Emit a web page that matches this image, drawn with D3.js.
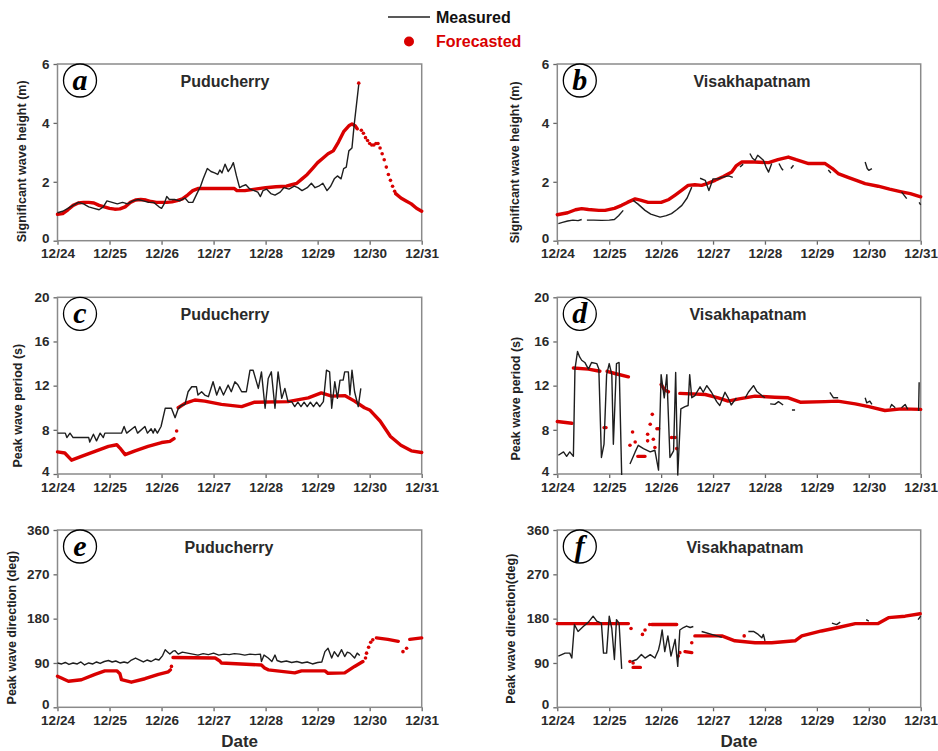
<!DOCTYPE html>
<html>
<head>
<meta charset="utf-8">
<script src="https://cdn.jsdelivr.net/npm/d3@7"></script>
<style>
  body { margin: 0; background: #fff; }
  svg { display: block; font-family: Arial, "Liberation Sans", sans-serif; }
</style>
</head>
<body>
<svg id="chart" width="938" height="751"></svg>
<script>
// x values are days after 12/24 00:00, null value = gap in the record
var dateLabels = ["12/24", "12/25", "12/26", "12/27", "12/28", "12/29", "12/30", "12/31"];

// (a) Puducherry, Hs (m)
var aMeas = [[0,0.95],[0.1,1.0],[0.2,1.1],[0.3,1.2],[0.4,1.3],[0.5,1.25],[0.6,1.15],[0.7,1.1],[0.8,1.05],[0.88,1.15],[0.95,1.35],[1.05,1.3],[1.15,1.25],[1.25,1.3],[1.35,1.25],[1.45,1.35],[1.55,1.4],[1.65,1.35],[1.75,1.3],[1.85,1.3],[1.95,1.15],[2.0,1.1],[2.05,1.25],[2.1,1.5],[2.15,1.4],[2.25,1.4],[2.35,1.35],[2.45,1.45],[2.52,1.3],[2.6,1.3],[2.68,1.6],[2.75,1.85],[2.8,2.1],[2.88,2.45],[2.95,2.35],[3.02,2.3],[3.08,2.25],[3.12,2.4],[3.16,2.3],[3.22,2.6],[3.28,2.35],[3.34,2.5],[3.38,2.65],[3.44,2.2],[3.5,1.8],[3.55,1.85],[3.62,1.9],[3.7,1.75],[3.78,1.7],[3.85,1.65],[3.9,1.5],[3.95,1.7],[4.02,1.75],[4.1,1.6],[4.18,1.55],[4.28,1.65],[4.35,1.8],[4.45,1.75],[4.55,1.85],[4.62,1.8],[4.7,1.7],[4.8,1.8],[4.88,1.95],[4.95,1.8],[5.02,1.85],[5.1,1.95],[5.18,1.7],[5.25,1.85],[5.32,2.1],[5.38,2.2],[5.45,2.1],[5.5,2.45],[5.55,2.5],[5.6,3.05],[5.66,3.15],[5.7,3.9],[5.79,5.3]];
var aFc = [[0,0.9],[0.1,0.92],[0.2,1.05],[0.3,1.2],[0.4,1.28],[0.5,1.3],[0.6,1.3],[0.7,1.28],[0.8,1.2],[0.9,1.15],[1.0,1.1],[1.1,1.07],[1.2,1.08],[1.3,1.15],[1.4,1.3],[1.5,1.38],[1.6,1.4],[1.7,1.38],[1.8,1.33],[1.9,1.3],[2.0,1.3],[2.1,1.3],[2.2,1.32],[2.3,1.36],[2.4,1.42],[2.5,1.55],[2.6,1.7],[2.7,1.77],[3.4,1.77],[3.45,1.7],[3.6,1.7],[3.8,1.75],[4.0,1.8],[4.2,1.83],[4.4,1.85],[4.5,1.9],[4.6,1.95],[4.7,2.1],[4.8,2.25],[4.9,2.45],[5.0,2.65],[5.1,2.8],[5.2,2.95],[5.3,3.05],[5.4,3.35],[5.5,3.7],[5.6,3.9],[5.66,3.96],[5.72,3.9],[5.76,3.8],[5.8,null],[6.5,1.6],[6.6,1.45],[6.7,1.35],[6.8,1.25],[6.9,1.1],[7.0,1.0]];
var aDots = [[5.79,5.35],[5.84,3.75],[5.88,3.65],[5.92,3.5],[5.96,3.4],[6.0,3.3],[6.04,3.25],[6.08,3.25],[6.12,3.3],[6.16,3.3],[6.2,3.15],[6.24,2.95],[6.28,2.75],[6.32,2.5],[6.36,2.25],[6.4,2.05],[6.44,1.85],[6.48,1.68]];

// (b) Visakhapatnam, Hs (m)
var bMeas = [[0.02,0.58],[0.1,0.62],[0.2,0.67],[0.3,0.7],[0.4,0.68],[0.47,0.72],[0.5,null],[0.57,0.7],[0.7,0.7],[0.85,0.69],[1.0,0.7],[1.1,0.72],[1.18,0.85],[1.27,1.03],[1.3,null],[1.46,1.37],[1.55,1.25],[1.69,1.03],[1.8,0.9],[1.98,0.8],[2.1,0.85],[2.2,0.92],[2.3,1.05],[2.4,1.2],[2.5,1.45],[2.59,1.82],[2.65,null],[2.75,2.12],[2.85,2.05],[2.92,1.7],[3.0,2.1],[3.1,2.1],[3.17,2.15],[3.3,2.2],[3.38,2.15],[3.42,null],[3.52,2.5],[3.58,2.6],[3.62,null],[3.71,2.96],[3.76,2.8],[3.81,2.73],[3.86,2.9],[3.9,2.84],[3.97,2.73],[4.02,2.5],[4.07,2.33],[4.13,2.62],[4.18,null],[4.27,2.62],[4.32,2.45],[4.35,2.39],[4.4,null],[4.5,2.45],[4.55,2.56],[4.58,null],[5.22,2.4],[5.27,2.3],[5.3,null],[5.93,2.67],[5.97,2.45],[6.0,2.39],[6.06,2.45],[6.1,null],[6.63,1.66],[6.73,1.43],[6.76,null],[6.97,1.3],[7.0,1.22]];
var bFc = [[0,0.88],[0.2,0.95],[0.35,1.05],[0.47,1.09],[0.6,1.06],[0.8,1.03],[0.92,1.03],[1.1,1.1],[1.24,1.2],[1.35,1.3],[1.5,1.42],[1.6,1.38],[1.75,1.3],[2.0,1.3],[2.15,1.4],[2.27,1.55],[2.4,1.72],[2.52,1.88],[2.65,1.9],[2.78,1.88],[2.9,1.95],[3.04,2.05],[3.2,2.18],[3.36,2.33],[3.45,2.55],[3.55,2.67],[3.8,2.67],[4.07,2.65],[4.25,2.75],[4.45,2.84],[4.6,2.75],[4.84,2.62],[5.16,2.62],[5.3,2.45],[5.41,2.28],[5.6,2.15],[5.8,2.02],[5.93,1.94],[6.18,1.85],[6.4,1.75],[6.63,1.66],[6.8,1.6],[7.0,1.49]];
var bDots = [];

// (c) Puducherry, Tp (s)
var cMeas = [[0,7.7],[0.15,7.7],[0.18,7.3],[0.24,7.7],[0.3,7.3],[0.6,7.3],[0.62,6.9],[0.69,7.6],[0.75,7.0],[0.82,7.7],[0.88,7.3],[0.91,7.7],[1.23,7.7],[1.28,8.3],[1.33,7.7],[1.49,8.3],[1.54,7.7],[1.68,8.3],[1.73,7.7],[1.8,8.1],[1.84,7.7],[1.87,8.1],[1.92,7.7],[1.99,8.3],[2.07,9.95],[2.19,9.95],[2.26,9.1],[2.32,9.9],[2.38,10.2],[2.45,10.3],[2.51,11.45],[2.58,11.9],[2.67,11.9],[2.7,11.15],[2.77,11.45],[2.83,11.15],[2.9,11.0],[2.99,12.35],[3.06,11.15],[3.12,11.9],[3.19,11.15],[3.28,12.05],[3.34,11.45],[3.41,12.35],[3.47,12.05],[3.54,11.45],[3.63,11.45],[3.7,13.4],[3.76,13.4],[3.86,11.75],[3.92,13.25],[3.99,9.95],[4.05,12.65],[4.11,13.25],[4.18,9.95],[4.24,13.25],[4.31,10.85],[4.37,11.75],[4.43,10.55],[4.5,10.55],[4.56,10.1],[4.62,10.5],[4.68,10.1],[4.74,10.5],[4.8,10.1],[4.86,10.5],[4.92,10.1],[4.98,10.5],[5.04,10.1],[5.11,10.55],[5.17,13.4],[5.23,13.25],[5.27,9.95],[5.33,12.35],[5.38,10.85],[5.43,12.5],[5.49,12.5],[5.52,13.25],[5.59,13.25],[5.62,11.15],[5.66,13.4],[5.71,11.45],[5.78,10.1],[5.83,11.75]];
var cFc = [[0,6.0],[0.14,5.9],[0.27,5.25],[0.46,5.6],[0.72,6.05],[0.98,6.5],[1.14,6.65],[1.2,6.35],[1.3,5.75],[1.49,6.1],[1.74,6.5],[2.0,6.85],[2.16,6.95],[2.24,7.2],[2.27,null],[2.32,10.0],[2.45,10.4],[2.64,10.7],[2.83,10.6],[3.15,10.3],[3.54,10.1],[3.79,10.5],[4.43,10.55],[4.82,10.9],[5.07,11.35],[5.27,11.05],[5.52,11.1],[5.71,10.6],[5.9,10.0],[6.0,9.8],[6.2,8.8],[6.4,7.4],[6.6,6.6],[6.8,6.1],[7.0,5.95]];
var cDots = [[2.29,7.9]];

// (d) Visakhapatnam, Tp (s)
var dMeas = [[0.02,5.7],[0.12,6.0],[0.18,5.6],[0.24,6.0],[0.31,5.6],[0.34,13.5],[0.39,15.1],[0.43,14.6],[0.47,14.3],[0.53,14.1],[0.6,13.5],[0.66,14.1],[0.76,14.0],[0.8,13.5],[0.85,5.5],[0.9,6.7],[0.95,13.0],[1.0,14.0],[1.05,13.0],[1.08,6.7],[1.14,14.0],[1.19,14.1],[1.24,3.9],[1.3,null],[1.4,4.9],[1.5,6.0],[1.56,6.6],[1.66,6.3],[1.79,6.0],[1.88,6.15],[1.95,4.35],[2.0,13.0],[2.06,10.9],[2.11,13.0],[2.17,5.5],[2.24,6.1],[2.28,13.2],[2.32,3.9],[2.38,9.9],[2.46,10.1],[2.52,10.2],[2.55,13.0],[2.59,10.9],[2.65,11.1],[2.75,11.9],[2.81,11.4],[2.88,12.0],[2.97,11.4],[3.07,10.55],[3.13,10.2],[3.23,11.4],[3.29,10.9],[3.35,10.25],[3.45,10.9],[3.5,null],[3.62,10.9],[3.68,11.4],[3.78,12.0],[3.84,11.5],[3.94,11.1],[4.0,10.9],[4.05,null],[4.1,10.35],[4.19,10.3],[4.26,10.55],[4.35,10.25],[4.4,null],[4.52,9.8],[4.58,9.8],[4.6,null],[5.25,11.4],[5.32,10.9],[5.41,10.9],[5.45,null],[5.93,10.9],[5.96,10.45],[6.02,10.6],[6.06,10.3],[6.1,null],[6.41,10.0],[6.44,10.3],[6.51,10.0],[6.55,null],[6.63,10.0],[6.7,10.3],[6.75,9.85],[6.8,null],[6.96,9.7],[6.97,12.3]];
var dFc = [[0,8.75],[0.28,8.6],[0.3,null],[0.31,13.6],[0.6,13.5],[0.82,13.3],[0.85,null],[0.9,8.2],[0.94,8.2],[0.95,null],[0.96,13.3],[1.11,13.1],[1.37,12.8],[1.4,null],[1.55,5.6],[1.69,5.6],[1.7,null],[2.0,12.1],[2.07,11.6],[2.14,11.45],[2.2,null],[2.36,11.3],[2.85,11.2],[3.1,10.9],[3.29,10.6],[3.5,10.8],[3.81,11.05],[4.19,10.95],[4.45,10.9],[4.68,10.5],[5.16,10.55],[5.4,10.6],[5.74,10.35],[6.0,10.1],[6.31,9.75],[6.63,9.9],[7.0,9.85]];
var dDots = [[1.45,7.8],[1.4,6.6],[1.5,6.9],[1.74,7.6],[1.79,8.5],[1.83,9.4],[1.74,7.0],[1.85,7.15],[1.88,6.4],[1.92,8.1],[1.95,8.1],[2.2,7.3],[2.24,7.3],[2.3,6.3],[2.27,7.3]];

// (e) Puducherry, direction (deg)
var eMeas = [[0,90],[0.08,88],[0.15,91],[0.22,87],[0.3,90],[0.38,88],[0.45,92],[0.52,86],[0.6,90],[0.68,88],[0.75,92],[0.82,89],[0.9,93],[0.98,95],[1.05,92],[1.12,94],[1.2,90],[1.28,92],[1.35,90],[1.42,96],[1.5,100],[1.58,96],[1.65,92],[1.72,96],[1.8,93],[1.88,98],[1.95,96],[2.02,105],[2.07,117],[2.12,112],[2.16,108],[2.22,114],[2.26,115],[2.32,108],[2.4,112],[2.5,110],[2.6,108],[2.7,106],[2.8,109],[2.9,107],[3.0,110],[3.1,106],[3.2,108],[3.3,107],[3.4,109],[3.5,108],[3.6,106],[3.7,108],[3.8,107],[3.9,108],[3.92,93],[3.97,106],[4.05,100],[4.12,93],[4.18,106],[4.22,95],[4.3,92],[4.4,94],[4.5,91],[4.6,93],[4.7,90],[4.8,92],[4.9,88],[5.0,91],[5.08,92],[5.14,113],[5.2,120],[5.27,100],[5.32,113],[5.39,103],[5.46,117],[5.52,103],[5.57,112],[5.62,110],[5.71,100],[5.76,110],[5.81,105]];
var eFc = [[0,63],[0.21,53],[0.46,56],[0.72,67],[0.91,74],[1.14,74],[1.2,68],[1.23,56],[1.42,51],[1.68,58],[1.94,67],[2.13,72],[2.17,76],[2.2,null],[2.22,101],[3.03,100],[3.12,94],[3.15,90],[3.92,86],[3.98,80],[4.05,76],[4.56,70],[4.69,74],[5.14,74],[5.2,69],[5.52,70],[5.71,83],[5.87,93],[5.9,null],[6.13,141],[6.35,138],[6.55,134],[6.6,null],[6.77,138],[7.0,141]];
var eDots = [[2.19,83],[5.92,100],[5.94,110],[5.98,122],[6.02,132],[6.06,137],[6.64,113],[6.71,120]];

// (f) Visakhapatnam, direction (deg)
var fMeas = [[0.02,104],[0.15,110],[0.24,110],[0.28,100],[0.33,168],[0.4,154],[0.5,164],[0.6,173],[0.69,185],[0.76,175],[0.85,171],[0.89,110],[0.95,110],[1.0,185],[1.05,160],[1.1,97],[1.14,178],[1.19,171],[1.24,78],[1.3,null],[1.43,93],[1.53,97],[1.62,107],[1.69,100],[1.79,107],[1.88,100],[1.95,117],[1.98,131],[2.02,157],[2.07,113],[2.13,145],[2.19,104],[2.27,138],[2.32,83],[2.36,157],[2.43,162],[2.49,165],[2.56,162],[2.62,164],[2.7,null],[2.78,154],[3.04,146],[3.17,142],[3.2,null],[3.68,154],[3.78,154],[3.87,148],[3.94,141],[3.97,148],[4.0,135],[4.05,null],[5.29,171],[5.38,168],[5.45,173],[5.5,null],[5.95,178],[6.0,175],[6.05,null],[6.95,178],[7.0,185]];
var fFc = [[0,170],[1.37,170],[1.4,null],[1.46,81],[1.6,81],[1.62,null],[1.82,168],[2.3,168],[2.33,null],[2.46,113],[2.59,111],[2.62,null],[2.65,145],[3.17,145],[3.42,135],[3.81,131],[4.13,131],[4.58,135],[4.71,145],[5.09,155],[5.41,162],[5.74,170],[6.18,170],[6.38,182],[6.7,185],[6.99,190]];
var fDots = [[1.42,160],[1.4,93],[1.46,90],[1.64,148],[1.69,157],[1.78,168],[2.36,111],[2.33,104],[2.59,131],[3.6,145]];

var hsTicks = [0, 2, 4, 6];
var tpTicks = [4, 8, 12, 16, 20];
var dirTicks = [0, 90, 180, 270, 360];

var colX = [[57.5, 421.7], [557.3, 920.7]];
var rowY = [[64, 240.7], [297.3, 474], [530, 707.3]];
var red = "#d90000";

var panels = [
    { letter: "a", col: 0, row: 0, station: "Puducherry", titleX: 225, ticks: hsTicks, label: "Significant wave height (m)", labelX: 22, labelDy: 9, meas: aMeas, fc: aFc, dots: aDots },
    { letter: "b", col: 1, row: 0, station: "Visakhapatnam", titleX: 752, ticks: hsTicks, label: "Significant wave height (m)", labelX: 515, labelDy: 10, meas: bMeas, fc: bFc, dots: bDots },
    { letter: "c", col: 0, row: 1, station: "Puducherry", titleX: 225, ticks: tpTicks, label: "Peak wave period (s)", labelX: 18, labelDy: 20, meas: cMeas, fc: cFc, dots: cDots },
    { letter: "d", col: 1, row: 1, station: "Visakhapatnam", titleX: 748, ticks: tpTicks, label: "Peak wave period (s)", labelX: 516, labelDy: 13, meas: dMeas, fc: dFc, dots: dDots },
    { letter: "e", col: 0, row: 2, station: "Puducherry", titleX: 229, ticks: dirTicks, label: "Peak wave direction (deg)", labelX: 12, labelDy: 9, meas: eMeas, fc: eFc, dots: eDots },
    { letter: "f", col: 1, row: 2, station: "Visakhapatnam", titleX: 745, ticks: dirTicks, label: "Peak wave direction(deg)", labelX: 511, labelDy: 10, meas: fMeas, fc: fFc, dots: fDots }
];

var svg = d3.select("#chart");

panels.forEach(function (p) {
    var x0 = colX[p.col][0], x1 = colX[p.col][1];
    var y0 = rowY[p.row][0], y1 = rowY[p.row][1];

    var x = d3.scaleLinear().domain([0, 7]).range([x0, x1]);
    var y = d3.scaleLinear().domain(d3.extent(p.ticks)).range([y1, y0]);

    // axes
    var xAxis = d3.axisBottom(x)
        .tickValues(d3.range(dateLabels.length))
        .tickFormat((d) => dateLabels[d])
        .tickSize(4)
        .tickPadding(4);
    var yAxis = d3.axisLeft(y)
        .tickValues(p.ticks)
        .tickFormat(d3.format("d"))
        .tickSize(4)
        .tickPadding(4);

    var gx = svg.append("g").attr("transform", `translate(0,${y1})`).call(xAxis);
    var gy = svg.append("g").attr("transform", `translate(${x0},0)`).call(yAxis);
    [gx, gy].forEach(function (g) {
        g.select(".domain").remove();
        g.selectAll("line").attr("stroke", "#666").attr("stroke-width", 1.3);
        g.selectAll("text")
            .attr("fill", "#2a2a2a")
            .style("font-size", "13.5px")
            .style("font-weight", "bold");
    });
    // bottom y label sits a little above the corner, clear of the date labels
    gy.selectAll(".tick text").filter((d, i) => i === 0).attr("dy", "0.1em");

    // frame
    svg.append("rect")
        .attr("x", x0)
        .attr("y", y0)
        .attr("width", x1 - x0)
        .attr("height", y1 - y0)
        .attr("fill", "none")
        .attr("stroke", "#8a8a8a")
        .attr("stroke-width", 1.5);

    // y label
    var cy = (y0 + y1) / 2 + p.labelDy;
    svg.append("text")
        .attr("transform", `translate(${p.labelX},${cy}) rotate(-90)`)
        .attr("text-anchor", "middle")
        .attr("dominant-baseline", "central")
        .attr("fill", "#222")
        .style("font-size", "12.5px")
        .style("font-weight", "bold")
        .text(p.label);

    // forecast (thick red trace + loose points)
    var line = d3.line()
        .defined((d) => d[1] != null)
        .x((d) => x(d[0]))
        .y((d) => y(d[1]));

    svg.append("path")
        .datum(p.fc)
        .attr("d", line)
        .attr("fill", "none")
        .attr("stroke", red)
        .attr("stroke-width", 3.4)
        .attr("stroke-linejoin", "round")
        .attr("stroke-linecap", "round");

    svg.selectAll(null)
        .data(p.dots)
        .enter()
        .append("circle")
        .attr("cx", (d) => x(d[0]))
        .attr("cy", (d) => y(d[1]))
        .attr("r", 1.8)
        .attr("fill", red);

    // measured
    svg.append("path")
        .datum(p.meas)
        .attr("d", line)
        .attr("fill", "none")
        .attr("stroke", "#1e1e1e")
        .attr("stroke-width", 1.4)
        .attr("stroke-linejoin", "round");

    // station title
    svg.append("text")
        .attr("x", p.titleX)
        .attr("y", y0 + 23)
        .attr("text-anchor", "middle")
        .attr("fill", "#2a2a2a")
        .style("font-size", "16px")
        .style("font-weight", "bold")
        .text(p.station);

    // panel letter
    svg.append("circle")
        .attr("cx", x0 + 22.5)
        .attr("cy", y0 + 16.5)
        .attr("r", 16.5)
        .attr("fill", "#fff")
        .attr("stroke", "#000")
        .attr("stroke-width", 1.3);
    svg.append("text")
        .attr("x", x0 + 22.5)
        .attr("y", y0 + 25.5)
        .attr("text-anchor", "middle")
        .style("font-family", "'Liberation Serif', 'Times New Roman', serif")
        .style("font-style", "italic")
        .style("font-weight", "bold")
        .style("font-size", "30px")
        .text(p.letter);
});

// x titles
[0, 1].forEach(function (c) {
    svg.append("text")
        .attr("x", (colX[c][0] + colX[c][1]) / 2)
        .attr("y", 747)
        .attr("text-anchor", "middle")
        .attr("fill", "#2a2a2a")
        .style("font-size", "17px")
        .style("font-weight", "bold")
        .text("Date");
});

// legend
var legend = svg.append("g");
legend.append("line")
    .attr("x1", 388).attr("x2", 430)
    .attr("y1", 17).attr("y2", 17)
    .attr("stroke", "#222")
    .attr("stroke-width", 1.3);
legend.append("text")
    .attr("x", 436).attr("y", 23)
    .attr("fill", "#111")
    .style("font-size", "16px")
    .style("font-weight", "bold")
    .text("Measured");
legend.append("circle")
    .attr("cx", 409).attr("cy", 41.5)
    .attr("r", 5)
    .attr("fill", red);
legend.append("text")
    .attr("x", 436).attr("y", 47)
    .attr("fill", red)
    .style("font-size", "16px")
    .style("font-weight", "bold")
    .text("Forecasted");
</script>
</body>
</html>
